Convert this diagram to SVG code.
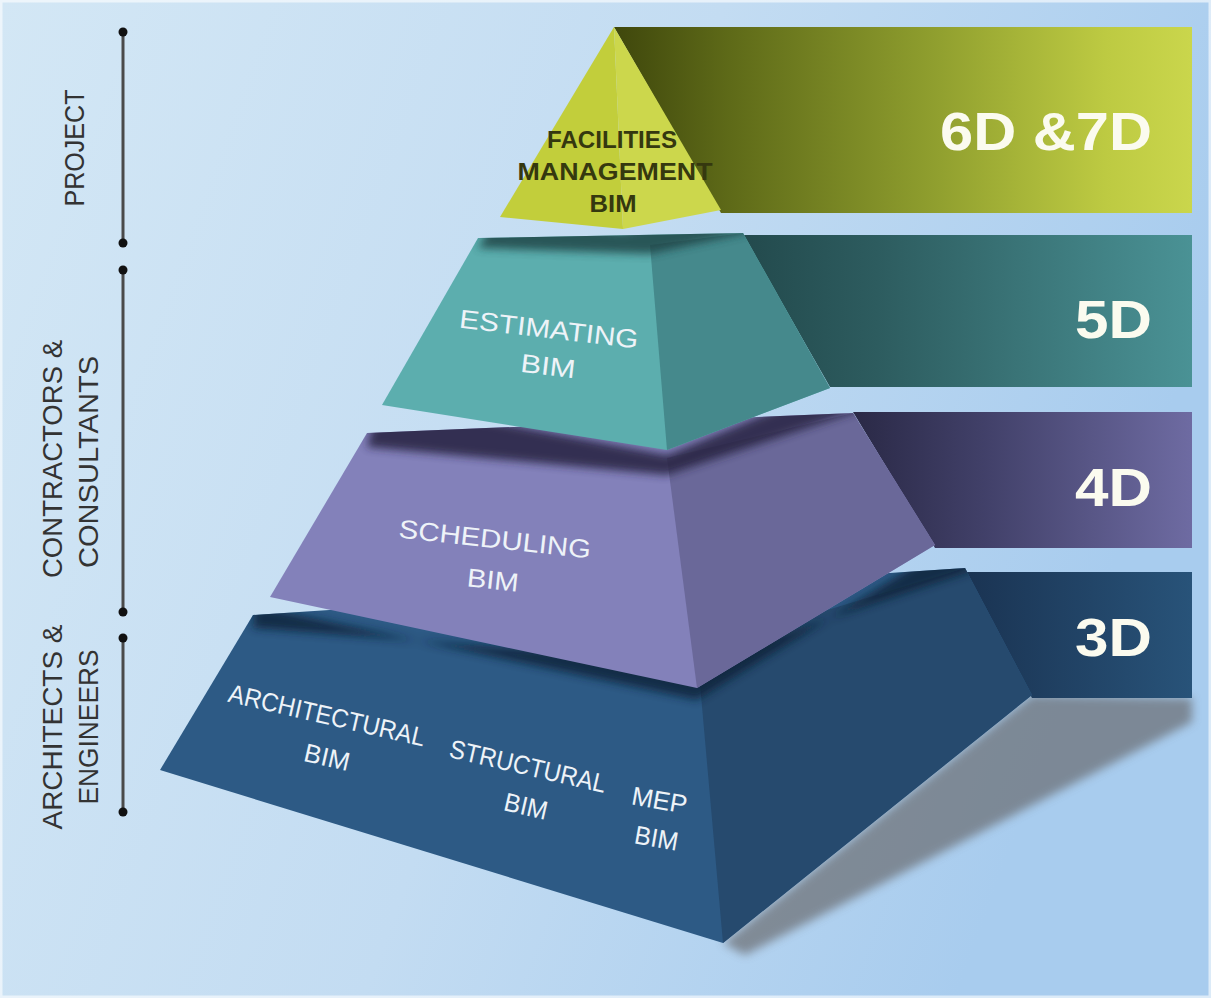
<svg xmlns="http://www.w3.org/2000/svg" width="1211" height="998" viewBox="0 0 1211 998">
<defs>
<linearGradient id="bg" x1="0" y1="0" x2="1" y2="0.3">
<stop offset="0" stop-color="#d3e7f5"/>
<stop offset="0.55" stop-color="#c3dcf2"/>
<stop offset="1" stop-color="#a8ccee"/>
</linearGradient>
<linearGradient id="g6" x1="614" y1="0" x2="1192" y2="0" gradientUnits="userSpaceOnUse">
<stop offset="0" stop-color="#3f470c"/>
<stop offset="0.2" stop-color="#5e6a18"/>
<stop offset="0.55" stop-color="#8f9e2e"/>
<stop offset="0.85" stop-color="#bdca42"/>
<stop offset="1" stop-color="#cad64c"/>
</linearGradient>
<linearGradient id="g5" x1="743" y1="0" x2="1192" y2="0" gradientUnits="userSpaceOnUse">
<stop offset="0" stop-color="#234a4d"/>
<stop offset="0.3" stop-color="#2d5c5f"/>
<stop offset="1" stop-color="#4a9295"/>
</linearGradient>
<linearGradient id="g4" x1="853" y1="0" x2="1192" y2="0" gradientUnits="userSpaceOnUse">
<stop offset="0" stop-color="#2a2946"/>
<stop offset="0.4" stop-color="#42416a"/>
<stop offset="1" stop-color="#6e6ba2"/>
</linearGradient>
<linearGradient id="g3" x1="962" y1="0" x2="1192" y2="0" gradientUnits="userSpaceOnUse">
<stop offset="0" stop-color="#1a3352"/>
<stop offset="1" stop-color="#285379"/>
</linearGradient>
<filter id="blur" x="-20%" y="-20%" width="140%" height="140%">
<feGaussianBlur stdDeviation="5"/>
</filter>
<filter id="blur2" x="-20%" y="-20%" width="140%" height="140%">
<feGaussianBlur stdDeviation="4"/>
</filter>
<clipPath id="clipBlue"><polygon points="253,615 965,568 1032,695 723,943 160,770"/></clipPath>
<clipPath id="clipPurple"><polygon points="367,433 853,413 935,545 697,688 270,597"/></clipPath>
<clipPath id="clipTeal"><polygon points="478,238 743,233 830,388 667,450 382,405"/></clipPath>
<style>
.lbl{font-family:"Liberation Sans",Arial,sans-serif;font-size:28px;fill:#333333;text-anchor:middle}
.tier{font-family:"Liberation Sans",Arial,sans-serif;font-size:26px;fill:#eef3f8;text-anchor:middle}
.fm{font-family:"Liberation Sans",Arial,sans-serif;font-size:24px;font-weight:bold;fill:#35380f;text-anchor:middle}
.dim{font-family:"Liberation Sans",Arial,sans-serif;font-size:54px;font-weight:bold;fill:#fbfbef;text-anchor:end}
.br{stroke:#4a4a4a;stroke-width:3}
.dot{fill:#111}
</style>
</defs>
<rect x="0" y="0" width="1211" height="998" fill="url(#bg)"/>
<rect x="1" y="1" width="1209" height="996" fill="none" stroke="#ffffff" stroke-opacity="0.6" stroke-width="3"/>

<g id="brackets">
<line class="br" x1="123" y1="32" x2="123" y2="243"/>
<circle class="dot" cx="123" cy="32" r="4.5"/><circle class="dot" cx="123" cy="243" r="4.5"/>
<line class="br" x1="123" y1="270" x2="123" y2="612"/>
<circle class="dot" cx="123" cy="270" r="4.5"/><circle class="dot" cx="123" cy="612" r="4.5"/>
<line class="br" x1="123" y1="638" x2="123" y2="812"/>
<circle class="dot" cx="123" cy="638" r="4.5"/><circle class="dot" cx="123" cy="812" r="4.5"/>
</g>

<g id="label-project">
<text class="lbl" transform="translate(84,148) rotate(-90)" textLength="117" lengthAdjust="spacingAndGlyphs">PROJECT</text>
</g>
<g id="label-contractors">
<text class="lbl" transform="translate(62,459) rotate(-90)" textLength="238" lengthAdjust="spacingAndGlyphs">CONTRACTORS &amp;</text>
<text class="lbl" transform="translate(98,462) rotate(-90)" textLength="212" lengthAdjust="spacingAndGlyphs">CONSULTANTS</text>
</g>
<g id="label-architects">
<text class="lbl" transform="translate(62,727) rotate(-90)" textLength="205" lengthAdjust="spacingAndGlyphs">ARCHITECTS &amp;</text>
<text class="lbl" transform="translate(98,727) rotate(-90)" textLength="155" lengthAdjust="spacingAndGlyphs">ENGINEERS</text>
</g>

<!-- ground shadow of pyramid -->
<polygon points="1032,695 1192,698 1192,722 745,955 723,943" fill="#5e5b5c" opacity="0.6" filter="url(#blur)"/>

<g id="bar-6d7d">
<polygon points="614,27 1192,27 1192,213 721,213" fill="url(#g6)"/>
<text class="dim" x="1152" y="150" textLength="212" lengthAdjust="spacingAndGlyphs">6D &amp;7D</text>
</g>
<g id="bar-5d">
<polygon points="743,235 1192,235 1192,387 830,387" fill="url(#g5)"/>
<text class="dim" x="1152" y="338" textLength="77" lengthAdjust="spacingAndGlyphs">5D</text>
</g>
<g id="bar-4d">
<polygon points="853,412 1192,412 1192,548 935,548" fill="url(#g4)"/>
<text class="dim" x="1152" y="506" textLength="77" lengthAdjust="spacingAndGlyphs">4D</text>
</g>
<g id="bar-3d">
<polygon points="965,572 1192,572 1192,698 1032,698" fill="url(#g3)"/>
<text class="dim" x="1152" y="656" textLength="77" lengthAdjust="spacingAndGlyphs">3D</text>
</g>

<g id="tier-3d">
<polygon points="253,615 965,568 1032,695 723,943 160,770" fill="#2d5a85"/>
<polygon points="697,650 965,568 1032,695 723,943" fill="#264a6e"/>
<g clip-path="url(#clipBlue)">
<polygon points="255,606 697,700 940,550 975,570 697,662 253,628" fill="#0f2238" opacity="0.8" filter="url(#blur2)"/>
</g>
<text class="tier" x="325" y="724" transform="rotate(13,325,724)" textLength="201" lengthAdjust="spacingAndGlyphs">ARCHITECTURAL</text>
<text class="tier" x="325" y="766" transform="rotate(13,325,766)" textLength="46" lengthAdjust="spacingAndGlyphs">BIM</text>
<text class="tier" x="526" y="775" transform="rotate(13,526,775)" textLength="160" lengthAdjust="spacingAndGlyphs">STRUCTURAL</text>
<text class="tier" x="524" y="815" transform="rotate(13,524,815)" textLength="44" lengthAdjust="spacingAndGlyphs">BIM</text>
<text class="tier" x="658" y="809" transform="rotate(10,658,809)" textLength="56" lengthAdjust="spacingAndGlyphs">MEP</text>
<text class="tier" x="655" y="847" transform="rotate(10,655,847)" textLength="44" lengthAdjust="spacingAndGlyphs">BIM</text>
</g>

<g id="tier-4d">
<polygon points="367,433 853,413 935,545 697,688 270,597" fill="#8381ba"/>
<polygon points="667,458 853,413 935,545 697,688" fill="#6a6899"/>
<g clip-path="url(#clipPurple)">
<polygon points="380,400 667,455 835,385 860,410 667,475 367,447" fill="#25233f" opacity="0.85" filter="url(#blur2)"/>
</g>
<text class="tier" x="494" y="548" transform="rotate(6.2,494,548)" textLength="193" lengthAdjust="spacingAndGlyphs">SCHEDULING</text>
<text class="tier" x="492" y="589" transform="rotate(6,492,589)" textLength="52" lengthAdjust="spacingAndGlyphs">BIM</text>
</g>

<g id="tier-5d">
<polygon points="478,238 743,233 830,388 667,450 382,405" fill="#5caeae"/>
<polygon points="650,245 743,233 830,388 667,450" fill="#45898c"/>
<g clip-path="url(#clipTeal)">
<polygon points="500,212 623,232 721,206 750,232 650,254 478,248" fill="#1e3f42" opacity="0.8" filter="url(#blur2)"/>
</g>
<text class="tier" x="548" y="338" transform="rotate(6.7,548,338)" textLength="180" lengthAdjust="spacingAndGlyphs">ESTIMATING</text>
<text class="tier" x="547" y="375" transform="rotate(6.7,547,375)" textLength="55" lengthAdjust="spacingAndGlyphs">BIM</text>
</g>

<g id="tier-6d7d">
<polygon points="614,27 500,217 623,229" fill="#c2ce3b"/>
<polygon points="614,27 623,229 721,210" fill="#ccd74c"/>
<text class="fm" x="612" y="148" textLength="130" lengthAdjust="spacingAndGlyphs">FACILITIES</text>
<text class="fm" x="615" y="180" textLength="195" lengthAdjust="spacingAndGlyphs">MANAGEMENT</text>
<text class="fm" x="613" y="212" textLength="47" lengthAdjust="spacingAndGlyphs">BIM</text>
</g>
</svg>
